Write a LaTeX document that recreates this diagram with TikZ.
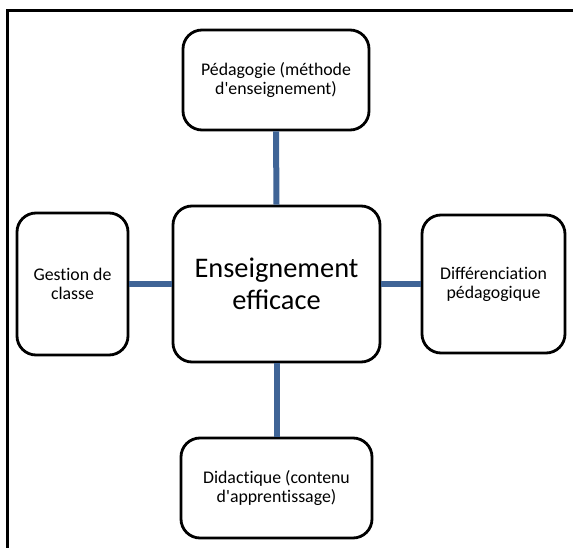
\documentclass[tikz,border=0pt]{standalone}
\usepackage{fontspec}
\setmainfont{Carlito}
\newcommand\nl{\kern0pt}
\definecolor{linkblue}{RGB}{63,100,150}
\begin{document}
\begin{tikzpicture}[x=1pt,y=-1pt,
  box/.style={draw=black, line width=2.8pt, rounded corners=19pt, fill=white,
    align=center, inner sep=0pt, font=\fontsize{17.8}{19}\selectfont},
  bigbox/.style={box, font=\fontsize{28.4}{32}\selectfont},
  link/.style={draw=linkblue, line width=6pt}]
\useasboundingbox (0,0) rectangle (573,548);
\draw[line width=3pt] (7,560) -- (7,11) -- (580,11);
\node[bigbox, minimum width=207pt, minimum height=156pt] (c) at (276.5,284) {Enseignement\\efficace};
\node[box, minimum width=186pt, minimum height=100pt] (t) at (276,80) {Pédagogie (méthode\\d\textquotesingle enseignement)};
\node[box, minimum width=111pt, minimum height=142pt] (l) at (72.5,284) {Gest\nl ion de\\classe};
\node[box, minimum width=143pt, minimum height=138pt] (r) at (493.5,284) {Différenciat\nl ion\\pédagogique};
\node[box, minimum width=191pt, minimum height=100pt] (b) at (276.5,488) {Didact\nl ique (contenu\\d\textquotesingle apprent\nl issage)};
\path[link] (c.north) -- (t.south);
\path[link] (c.south) -- (b.north);
\path[link] (c.west) -- (l.east);
\path[link] (c.east) -- (r.west);
\end{tikzpicture}
\end{document}
